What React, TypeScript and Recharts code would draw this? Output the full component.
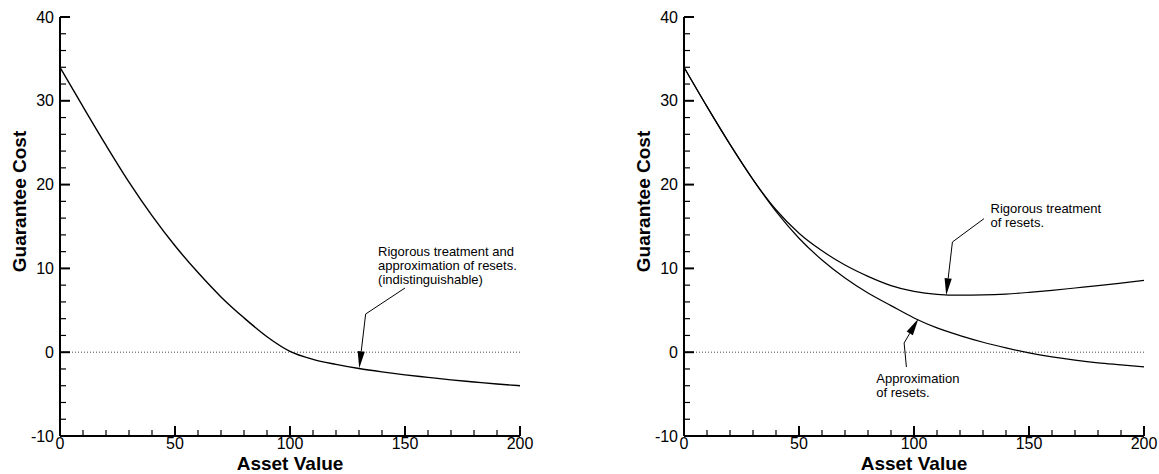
import React from 'react';
import { LineChart, Line, XAxis, YAxis, ReferenceLine, ReferenceDot, Label } from 'recharts';

// asset value grid
const assetValues = [0, 10, 20, 30, 40, 50, 60, 70, 80, 90, 100, 110, 120, 130, 140, 150, 160, 170, 180, 190, 200];

// left panel: rigorous and approximate coincide
const combinedCost = [34.0, 29.3, 24.7, 20.3, 16.3, 12.7, 9.5, 6.6, 4.1, 1.85, 0.1, -0.85, -1.45, -1.95, -2.35, -2.7, -3.0, -3.3, -3.55, -3.8, -4.0];

// right panel
const rigorousCost = [34.0, 29.3, 24.8, 20.6, 17.0, 14.2, 12.1, 10.4, 9.05, 7.95, 7.25, 6.9, 6.8, 6.83, 6.94, 7.14, 7.38, 7.66, 7.94, 8.25, 8.57];
const approxCost = [34.0, 29.3, 24.8, 20.6, 16.8, 13.6, 11.0, 8.85, 7.06, 5.56, 4.09, 2.9, 1.98, 1.19, 0.52, -0.08, -0.56, -0.95, -1.27, -1.51, -1.75];

const xTicks = [0, 10, 20, 30, 40, 50, 60, 70, 80, 90, 100, 110, 120, 130, 140, 150, 160, 170, 180, 190, 200];
const yTicks = [-10, -8, -6, -4, -2, 0, 2, 4, 6, 8, 10, 12, 14, 16, 18, 20, 22, 24, 26, 28, 30, 32, 34, 36, 38, 40];

// annotation anchors, in data units
const leftNoteLines = ['Rigorous treatment and', 'approximation of resets.', '(indistinguishable)'];
const leftNoteAt = { x: 138.3, y: 12.07 };
const leftLeader = [{ x: 150, y: 7.66 }, { x: 132.9, y: 4.56 }, { x: 130.1, y: -1.92 }];

const rigNoteLines = ['Rigorous treatment', 'of resets.'];
const rigNoteAt = { x: 133.3, y: 17.12 };
const rigLeader = [{ x: 130.4, y: 15.93 }, { x: 116.7, y: 13.15 }, { x: 114, y: 6.79 }];

const appNoteLines = ['Approximation', 'of resets.'];
const appNoteAt = { x: 83.6, y: -3.16 };
const appLeader = [{ x: 96.7, y: -1.77 }, { x: 95.7, y: 1.1 }, { x: 101.9, y: 4.0 }];

const FONT = '"Liberation Sans", Arial, Helvetica, sans-serif';

const leftData = assetValues.map((x, i) => ({ x, cost: combinedCost[i] }));
const rightData = assetValues.map((x, i) => ({ x, rigorous: rigorousCost[i], approx: approxCost[i] }));

const YTick = (props: any) => {
  const { x, y, payload } = props;
  const major = payload.value % 10 === 0;
  const ax = x + 6;
  return (
    <g>
      <line x1={ax} y1={y} x2={ax + (major ? 10 : 6)} y2={y} stroke="#000" strokeWidth={major ? 2 : 1.2} />
      {major && (
        <text x={x} y={y + 5.5} textAnchor="end" fontSize={16} fontFamily={FONT} fill="#000">
          {payload.value}
        </text>
      )}
    </g>
  );
};

const XTick = (props: any) => {
  const { x, y, payload } = props;
  const major = payload.value % 50 === 0;
  return (
    <g>
      <line x1={x} y1={y} x2={x} y2={y - (major ? 10 : 6)} stroke="#000" strokeWidth={major ? 2 : 1.2} />
      {major && (
        <text x={x} y={y + 13} textAnchor="middle" fontSize={16} fontFamily={FONT} fill="#000">
          {payload.value}
        </text>
      )}
    </g>
  );
};

const yTitle = (props: any) => {
  const vb = props.viewBox;
  const cx = vb.x + vb.width - 41;
  const cy = vb.y + vb.height / 2 - 25;
  return (
    <text x={cx} y={cy} transform={`rotate(-90, ${cx}, ${cy})`} dy={7} textAnchor="middle"
      fontSize={19} fontWeight="bold" fontFamily={FONT} fill="#000">
      Guarantee Cost
    </text>
  );
};

const xTitle = (props: any) => {
  const vb = props.viewBox;
  return (
    <text x={vb.x + vb.width / 2} y={vb.y + 34} textAnchor="middle"
      fontSize={19} fontWeight="bold" fontFamily={FONT} fill="#000">
      Asset Value
    </text>
  );
};

const arrowShape = (props: any) => {
  const { x1, y1, x2, y2 } = props;
  const dx = x2 - x1;
  const dy = y2 - y1;
  const len = Math.sqrt(dx * dx + dy * dy) || 1;
  const ux = dx / len;
  const uy = dy / len;
  const headLen = 17;
  const half = 3.6;
  const bx = x2 - ux * headLen;
  const by = y2 - uy * headLen;
  const pts = `${x2},${y2} ${bx - uy * half},${by + ux * half} ${bx + uy * half},${by - ux * half}`;
  return (
    <g>
      <line x1={x1} y1={y1} x2={bx} y2={by} stroke="#000" strokeWidth={1} />
      <polygon points={pts} fill="#000" />
    </g>
  );
};

const plainShape = (props: any) => (
  <line x1={props.x1} y1={props.y1} x2={props.x2} y2={props.y2} stroke="#000" strokeWidth={1} />
);

const noteShape = (lines: string[]) => (props: any) => (
  <text x={props.cx} y={props.cy + 4.5} fontSize={13} fontFamily={FONT} fill="#000">
    {lines.map((l, i) => (
      <tspan key={i} x={props.cx} dy={i === 0 ? 0 : 14}>{l}</tspan>
    ))}
  </text>
);

const leader = (pts: { x: number; y: number }[], key: string) => [
  <ReferenceLine key={key + 'a'} segment={[pts[0], pts[1]]} shape={plainShape} ifOverflow="visible" />,
  <ReferenceLine key={key + 'b'} segment={[pts[1], pts[2]]} shape={arrowShape} ifOverflow="visible" />,
];

const axes = () => [
  <XAxis key="x" dataKey="x" type="number" domain={[0, 200]} ticks={xTicks} interval={0}
    tickSize={0} tickMargin={0} tick={<XTick />} height={38}
    axisLine={{ stroke: '#000', strokeWidth: 2 }} tickLine={false}>
    <Label content={xTitle} />
  </XAxis>,
  <YAxis key="y" type="number" domain={[-10, 40]} ticks={yTicks} interval={0}
    tickSize={0} tickMargin={6} tick={<YTick />} width={60}
    axisLine={{ stroke: '#000', strokeWidth: 2 }} tickLine={false}>
    <Label content={yTitle} />
  </YAxis>,
];

const App: React.FC = () => {
  return (
    <div style={{ position: 'fixed', left: 0, top: 0, width: 1159, height: 474, background: '#fff' }}>
      <div style={{ position: 'absolute', left: 0, top: 0 }}>
        <LineChart width={580} height={474} data={leftData} margin={{ top: 17, right: 60, bottom: 0, left: 0 }}>
          {axes()}
          <ReferenceLine y={0} stroke="#444" strokeWidth={1} strokeDasharray="1 2" />
          <Line type="monotone" dataKey="cost" stroke="#000" strokeWidth={1.4} dot={false} isAnimationActive={false} />
          {leader(leftLeader, 'l')}
          <ReferenceDot x={leftNoteAt.x} y={leftNoteAt.y} r={0} shape={noteShape(leftNoteLines)} ifOverflow="visible" />
        </LineChart>
      </div>
      <div style={{ position: 'absolute', left: 600, top: 0 }}>
        <LineChart width={559} height={474} data={rightData} margin={{ top: 17, right: 15, bottom: 0, left: 24 }}>
          {axes()}
          <ReferenceLine y={0} stroke="#444" strokeWidth={1} strokeDasharray="1 2" />
          <Line type="monotone" dataKey="rigorous" stroke="#000" strokeWidth={1.2} dot={false} isAnimationActive={false} />
          <Line type="monotone" dataKey="approx" stroke="#000" strokeWidth={1.2} dot={false} isAnimationActive={false} />
          {leader(rigLeader, 'r')}
          {leader(appLeader, 'a')}
          <ReferenceDot x={rigNoteAt.x} y={rigNoteAt.y} r={0} shape={noteShape(rigNoteLines)} ifOverflow="visible" />
          <ReferenceDot x={appNoteAt.x} y={appNoteAt.y} r={0} shape={noteShape(appNoteLines)} ifOverflow="visible" />
        </LineChart>
      </div>
    </div>
  );
};

export default App;
